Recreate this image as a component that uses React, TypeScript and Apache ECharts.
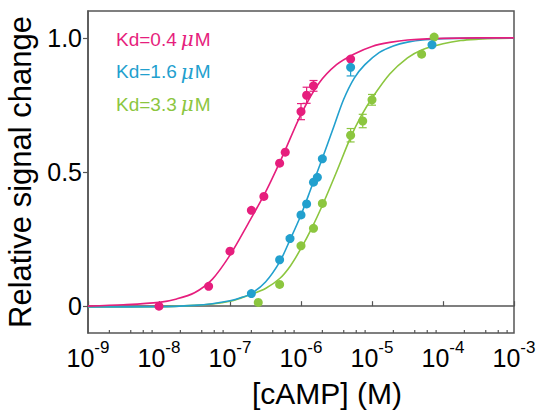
import React, { useEffect, useRef } from "react";
import * as echarts from "echarts";

const PINK = "#E61E7D";
const BLUE = "#22A0CE";
const GREEN = "#8CC63F";
const AXIS = "#555555";
const FONT = "Liberation Sans";

const X_MIN = 1e-9;
const X_MAX = 1e-3;
const Y_MIN = -0.1;
const Y_MAX = 1.1;

const xDecadeExponents = [-9, -8, -7, -6, -5, -4];
const minorMultipliers = [2, 4, 6, 8];
const yTickValues = [0, 0.5, 1.0];
const yTickLabels = ["0", "0.5", "1.0"];

const xTitle = "[cAMP] (M)";
const yTitle = "Relative signal change";
const legendKd = ["Kd=0.4", "Kd=1.6", "Kd=3.3"];
const legendColors = [PINK, BLUE, GREEN];

// measured points
const pinkX = [1e-8, 5e-8, 1e-7, 2e-7, 3e-7, 5e-7, 6e-7, 1e-6, 1.2e-6, 1.5e-6, 5e-6];
const pinkY = [0.0, 0.074, 0.205, 0.357, 0.409, 0.533, 0.574, 0.725, 0.786, 0.821, 0.921];
const blueX = [2e-7, 5e-7, 7e-7, 1e-6, 1.2e-6, 1.5e-6, 1.7e-6, 2e-6, 5e-6, 7e-5];
const blueY = [0.047, 0.173, 0.252, 0.34, 0.381, 0.462, 0.48, 0.549, 0.89, 0.974];
const greenX = [2.5e-7, 5e-7, 1e-6, 1.5e-6, 2e-6, 5e-6, 7.4e-6, 1e-5, 5e-5, 7.5e-5];
const greenY = [0.014, 0.081, 0.225, 0.29, 0.383, 0.637, 0.69, 0.769, 0.939, 1.003];

// error bars (x, centre, half-height)
const pinkErrX = [1e-6, 1.2e-6, 1.5e-6];
const pinkErrY = [0.725, 0.786, 0.821];
const pinkErr = [0.03, 0.03, 0.02];
const blueErrX = [5e-6];
const blueErrY = [0.89];
const blueErr = [0.032];
const greenErrX = [5e-6, 7.4e-6, 1e-5];
const greenErrY = [0.637, 0.69, 0.769];
const greenErr = [0.025, 0.025, 0.02];

// fitted curves (x as log10 exponent)
const pinkCurveLogX = [-9, -8.5, -8, -7.75, -7.5, -7.25, -7, -6.75, -6.5, -6.25, -6, -5.75, -5.5, -5.25, -5, -4.75, -4.5, -4, -3.5, -3];
const pinkCurveY = [0.0, 0.005, 0.014, 0.027, 0.05, 0.1, 0.19, 0.305, 0.425, 0.565, 0.715, 0.83, 0.9, 0.94, 0.968, 0.983, 0.992, 0.998, 1.0, 1.0];
const blueCurveLogX = [-9, -8, -7.5, -7.25, -7, -6.85, -6.7, -6.5, -6.3, -6.15, -6, -5.85, -5.7, -5.55, -5.4, -5.25, -5.1, -4.9, -4.7, -4.5, -4.25, -4, -3.5, -3];
const blueCurveY = [-0.003, -0.002, 0.003, 0.009, 0.02, 0.031, 0.047, 0.09, 0.165, 0.25, 0.34, 0.445, 0.55, 0.66, 0.77, 0.85, 0.9, 0.945, 0.97, 0.984, 0.993, 0.997, 0.999, 1.0];
const greenCurveLogX = [-9, -8, -7.5, -7.25, -7, -6.85, -6.7, -6.5, -6.3, -6.15, -6, -5.85, -5.7, -5.5, -5.3, -5.15, -5, -4.75, -4.5, -4.3, -4, -3.75, -3.5, -3.25, -3];
const greenCurveY = [-0.003, -0.002, 0.003, 0.008, 0.018, 0.03, 0.044, 0.066, 0.103, 0.15, 0.215, 0.29, 0.375, 0.5, 0.63, 0.71, 0.775, 0.865, 0.925, 0.955, 0.978, 0.99, 0.995, 0.998, 0.999];

export default function App() {
  const ref = useRef<HTMLDivElement>(null);

  useEffect(() => {
    if (!ref.current) return;
    const chart = echarts.init(ref.current, null, { renderer: "svg" });

    const pairs = (xs: number[], ys: number[]) => xs.map((x, i) => [x, ys[i]]);
    const curve = (lx: number[], ys: number[]) => lx.map((l, i) => [Math.pow(10, l), ys[i]]);
    const errs = (xs: number[], ys: number[], es: number[]) =>
      xs.map((x, i) => [x, ys[i] - es[i], ys[i] + es[i]]);

    const minorTicks: number[][] = [];
    xDecadeExponents.forEach((e) => {
      minorMultipliers.forEach((m) => minorTicks.push([m * Math.pow(10, e), Y_MIN]));
    });

    const errSeries = (data: number[][], color: string) => ({
      type: "custom",
      data,
      encode: { x: 0, y: [1, 2] },
      silent: true,
      z: 3,
      renderItem: (params: any, api: any) => {
        const x = api.value(0);
        const p1 = api.coord([x, api.value(1)]);
        const p2 = api.coord([x, api.value(2)]);
        const w = 4;
        const st = { stroke: color, lineWidth: 1.2 };
        return {
          type: "group",
          children: [
            { type: "line", shape: { x1: p1[0], y1: p1[1], x2: p2[0], y2: p2[1] }, style: st },
            { type: "line", shape: { x1: p1[0] - w, y1: p1[1], x2: p1[0] + w, y2: p1[1] }, style: st },
            { type: "line", shape: { x1: p2[0] - w, y1: p2[1], x2: p2[0] + w, y2: p2[1] }, style: st },
          ],
        };
      },
    });

    const lineSeries = (data: number[][], color: string, z: number) => ({
      type: "line",
      data,
      smooth: 0.3,
      showSymbol: false,
      silent: true,
      lineStyle: { color, width: 1.6 },
      z,
    });

    const pointSeries = (data: number[][], color: string, z: number) => ({
      type: "scatter",
      data,
      symbol: "circle",
      symbolSize: 9,
      itemStyle: { color, opacity: 1 },
      silent: true,
      z,
    });

    const option: any = {
      animation: false,
      backgroundColor: "#ffffff",
      grid: {
        left: 88,
        right: 29,
        top: 11,
        bottom: 79,
        show: true,
        borderColor: AXIS,
        borderWidth: 1.5,
        backgroundColor: "transparent",
        containLabel: false,
        outerBoundsMode: "none",
      },
      xAxis: {
        type: "log",
        logBase: 10,
        min: X_MIN,
        max: X_MAX,
        name: xTitle,
        nameLocation: "middle",
        nameGap: 45,
        nameTextStyle: { fontSize: 30, fontFamily: FONT, color: "#000", padding: [0, 0, 0, 52] },
        axisLine: { show: true, lineStyle: { color: AXIS, width: 1.5 } },
        axisTick: { show: true, inside: true, length: 5, lineStyle: { color: AXIS, width: 1.2 } },
        splitLine: { show: false },
        minorTick: { show: false },
        axisLabel: {
          margin: 6,
          interval: 0,
          formatter: (v: number) => `{b|10}{s|${Math.round(Math.log10(v))}}`,
          rich: {
            b: { fontSize: 25, fontFamily: FONT, color: "#000", lineHeight: 38 },
            s: { fontSize: 17, fontFamily: FONT, color: "#000", verticalAlign: "top" },
          },
        },
      },
      yAxis: {
        type: "value",
        min: Y_MIN,
        max: Y_MAX,
        name: yTitle,
        nameLocation: "middle",
        nameRotate: 90,
        nameGap: 52,
        nameTextStyle: { fontSize: 31, fontFamily: FONT, color: "#000" },
        axisLine: { show: true, lineStyle: { color: AXIS, width: 1.5 } },
        axisTick: {
          show: true,
          inside: false,
          length: 5,
          customValues: yTickValues,
          lineStyle: { color: AXIS, width: 1.2 },
        },
        splitLine: { show: false },
        axisLabel: {
          margin: 6,
          customValues: yTickValues,
          fontSize: 25,
          fontFamily: FONT,
          color: "#000",
          formatter: (v: number) => {
            const i = yTickValues.findIndex((t) => Math.abs(t - v) < 1e-9);
            return i >= 0 ? yTickLabels[i] : "";
          },
        },
      },
      graphic: legendKd.map((kd, i) => ({
        type: "text",
        left: 116,
        top: 29 + i * 32.5,
        silent: true,
        style: {
          text: `{t|${kd}}{mu|μ}{t|M}`,
          rich: {
            t: { fontSize: 19, fontFamily: FONT, fill: legendColors[i], color: legendColors[i] },
            mu: {
              fontSize: 20,
              fontFamily: "DejaVu Serif",
              fontStyle: "italic",
              fill: legendColors[i],
              color: legendColors[i],
              padding: [0, 1, 0, 4],
            },
          },
        },
      })),
      series: [
        {
          type: "custom",
          data: minorTicks,
          silent: true,
          z: 5,
          clip: false,
          renderItem: (params: any, api: any) => {
            const p = api.coord([api.value(0), api.value(1)]);
            return {
              type: "line",
              shape: { x1: p[0], y1: p[1], x2: p[0], y2: p[1] - 3 },
              style: { stroke: AXIS, lineWidth: 1.2 },
            };
          },
        },
        lineSeries(curve(greenCurveLogX, greenCurveY), GREEN, 2),
        lineSeries(curve(blueCurveLogX, blueCurveY), BLUE, 2),
        lineSeries(curve(pinkCurveLogX, pinkCurveY), PINK, 2),
        errSeries(errs(greenErrX, greenErrY, greenErr), GREEN),
        errSeries(errs(pinkErrX, pinkErrY, pinkErr), PINK),
        errSeries(errs(blueErrX, blueErrY, blueErr), BLUE),
        pointSeries(pairs(greenX, greenY), GREEN, 4),
        pointSeries(pairs(pinkX, pinkY), PINK, 4),
        pointSeries(pairs(blueX, blueY), BLUE, 4),
      ],
    };

    chart.setOption(option);
    return () => chart.dispose();
  }, []);

  return (
    <div
      ref={ref}
      style={{ position: "fixed", left: 0, top: 0, width: 543, height: 412, background: "#fff" }}
    />
  );
}
